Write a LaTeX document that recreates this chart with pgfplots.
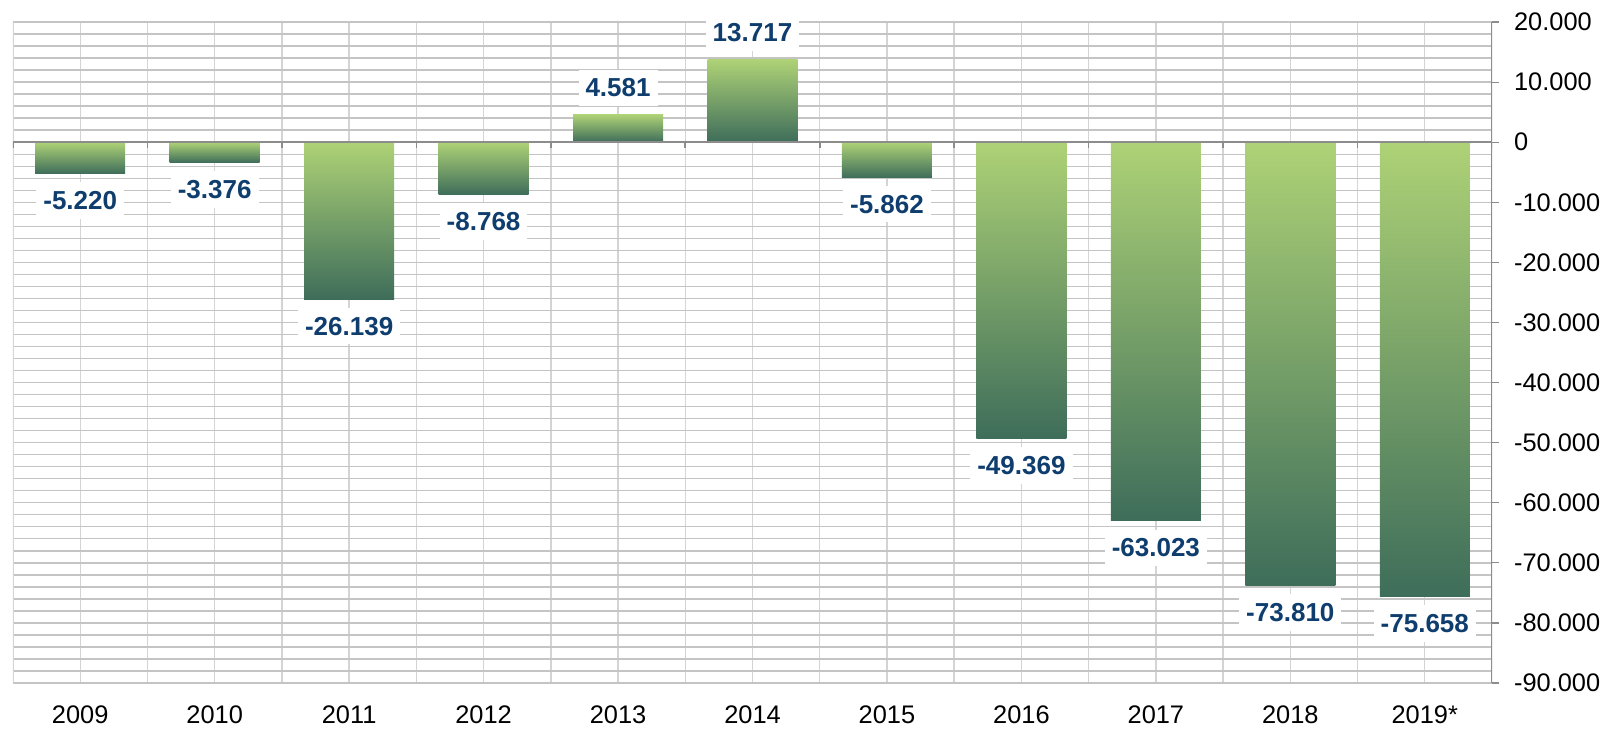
\documentclass[border=0pt]{standalone}
\usepackage{pgfplots}
\pgfplotsset{compat=1.18}
\usepackage{fontspec}
\setmainfont{Liberation Sans}
\definecolor{barTop}{HTML}{AED276}
\definecolor{barMid}{HTML}{8EB46E}
\definecolor{barBot}{HTML}{3E6D5A}
\definecolor{lblc}{HTML}{0E3D6E}
\definecolor{gridh}{HTML}{C4C4C4}
\definecolor{gridv}{HTML}{D4D4D4}
\definecolor{axc}{HTML}{8C8C8C}
\pgfplotsset{
  mybar/.style={ybar, bar width=45pt, bar shift=0pt, draw=none,
    top color=barTop, middle color=barMid, bottom color=barBot,
    nodes near coords style={font=\fontsize{13}{15}\selectfont\bfseries, text=lblc,
      fill=white, inner xsep=3.5pt, inner ysep=4.5pt, outer sep=4.3pt}},
}
\newcommand{\onebar}[4]{%
  \addplot[mybar, nodes near coords={#3}, nodes near coords style={anchor=#4}]
    coordinates {(#1,#2)};}
\begin{document}
\begin{tikzpicture}
\path[use as bounding box] (-6.5pt,-23pt) rectangle (798pt,341.5pt);
\begin{axis}[
  at={(0,0)}, anchor=south west,
  scale only axis, width=739.5pt, height=330.5pt,
  xmin=-0.5, xmax=10.5, ymin=-90000, ymax=20000,
  axis line style={draw=none},
  scaled y ticks=false,
  xtick={0,...,10},
  xticklabels={2009,2010,2011,2012,2013,2014,2015,2016,2017,2018,2019*},
  minor x tick num=1, xmajorgrids, xminorgrids,
  ytick={-90000,-80000,...,20000},
  yticklabels={-90.000,-80.000,-70.000,-60.000,-50.000,-40.000,-30.000,-20.000,-10.000,0,10.000,20.000},
  minor y tick num=4, ymajorgrids, yminorgrids,
  x grid style={draw=gridv, line width=0.7pt},
  y grid style={draw=gridh, line width=0.7pt},
  ytick pos=right, yticklabel pos=right,
  tick align=outside, major tick length=3.5pt, minor tick length=0pt,
  xtick style={draw=none}, ytick style={draw=axc, line width=0.6pt},
  ticklabel style={font=\fontsize{12.7}{14}\selectfont, text=black},
  xticklabel style={inner ysep=1pt},
  xticklabel shift=6.5pt,
  yticklabel style={anchor=west, xshift=4pt},
]
\onebar{0}{-5220}{-5.220}{north}
\onebar{1}{-3376}{-3.376}{north}
\onebar{2}{-26139}{-26.139}{north}
\onebar{3}{-8768}{-8.768}{north}
\onebar{4}{4581}{4.581}{south}
\onebar{5}{13717}{13.717}{south}
\onebar{6}{-5862}{-5.862}{north}
\onebar{7}{-49369}{-49.369}{north}
\onebar{8}{-63023}{-63.023}{north}
\onebar{9}{-73810}{-73.810}{north}
\onebar{10}{-75658}{-75.658}{north}
\draw[gridv, line width=0.7pt] (axis cs:-0.5,-90000) -- (axis cs:-0.5,20000);
\draw[axc, line width=0.8pt] (axis cs:-0.5,0) -- (axis cs:10.5,0);
\draw[axc, line width=0.8pt] (axis cs:10.5,-90000) -- (axis cs:10.5,20000);
\pgfplotsinvokeforeach{-0.5,0.5,...,10.5}{\draw[axc, line width=0.8pt] (axis cs:#1,0) -- ([yshift=-3pt]axis cs:#1,0);}
\end{axis}
\end{tikzpicture}
\end{document}
